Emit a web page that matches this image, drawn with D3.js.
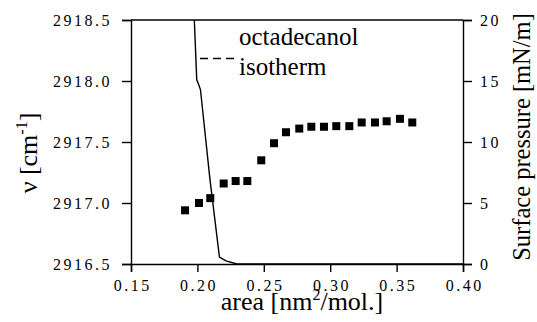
<!DOCTYPE html>
<html>
<head>
<meta charset="utf-8">
<script src="https://cdn.jsdelivr.net/npm/d3@7"></script>
<style>
  body { margin: 0; background: #fff; }
  svg { display: block; }
  .tick text { font-family: "Liberation Serif", "Times New Roman", serif; font-size: 16px; letter-spacing: 2.5px; fill: #000; }
  .domain, .tick line { stroke: #000; stroke-width: 1.4px; }
  .ttl { font-family: "Liberation Serif", "Times New Roman", serif; fill: #000; }
</style>
</head>
<body>
<div id="chart"></div>
<script>
'use strict'

// peak position vs area (squares)
let areaPts = [0.1907, 0.2012, 0.2097, 0.2198, 0.2288, 0.2376, 0.2481, 0.2577, 0.2667, 0.2767,
               0.2858, 0.2953, 0.3046, 0.3144, 0.3237, 0.3337, 0.3425, 0.3525, 0.3618];
let nuPts = [2916.94, 2917.00, 2917.04, 2917.16, 2917.18, 2917.18, 2917.35, 2917.49, 2917.58, 2917.61,
             2917.625, 2917.625, 2917.63, 2917.63, 2917.66, 2917.66, 2917.67, 2917.69, 2917.66];

// octadecanol isotherm (right axis)
let isoArea = [0.1977, 0.1995, 0.2008, 0.2023, 0.2095, 0.2166, 0.2215, 0.2298, 0.40];
let isoPressure = [20, 15.1, 14.75, 14.3, 6.9, 0.57, 0.25, 0, 0];

let xTicks = [0.15, 0.20, 0.25, 0.30, 0.35, 0.40];
let nuTicks = [2916.5, 2917.0, 2917.5, 2918.0, 2918.5];
let pTicks = [0, 5, 10, 15, 20];

var W = 537, H = 322;
var mLeft = 131, mRight = 463, mTop = 20, mBottom = 264;
var serif = '"Liberation Serif", "Times New Roman", serif';

var svg = d3.select("#chart").append("svg")
    .attr("width", W)
    .attr("height", H);

var x = d3.scaleLinear().domain([0.15, 0.40]).range([mLeft, mRight]);
var yNu = d3.scaleLinear().domain([2916.5, 2918.5]).range([mBottom, mTop]);
var yP = d3.scaleLinear().domain([0, 20]).range([mBottom, mTop]);

// frame top line
svg.append("line")
    .attr("x1", mLeft).attr("x2", mRight)
    .attr("y1", mTop).attr("y2", mTop)
    .attr("stroke", "#000").attr("stroke-width", 1.4);

var gx = svg.append("g")
    .attr("transform", "translate(0," + mBottom + ")")
    .call(d3.axisBottom(x).tickValues(xTicks).tickFormat(d3.format(".2f")).tickSizeOuter(0).tickSize(8).tickPadding(8));
gx.selectAll(".tick text").attr("dx", "1.2px");

var gl = svg.append("g")
    .attr("transform", "translate(" + mLeft + ",0)")
    .call(d3.axisLeft(yNu).tickValues(nuTicks).tickFormat(d3.format(".1f")).tickSizeOuter(0).tickSize(9).tickPadding(10));

var gr = svg.append("g")
    .attr("transform", "translate(" + mRight + ",0)")
    .call(d3.axisRight(yP).tickValues(pTicks).tickFormat(d3.format("d")).tickSizeOuter(0).tickSize(9).tickPadding(8));

[gx, gl, gr].forEach(function(g) {
  g.attr("font-family", serif).attr("font-size", 16);
});

// isotherm
var line = d3.line()
    .x(function(d, i) { return x(isoArea[i]); })
    .y(function(d, i) { return yP(isoPressure[i]); });

svg.append("path")
    .datum(isoArea)
    .attr("d", line)
    .attr("fill", "none")
    .attr("stroke", "#000")
    .attr("stroke-width", 1.4);

// squares
var sq = 8;
svg.selectAll(".pt")
    .data(areaPts)
    .enter().append("rect")
    .attr("class", "pt")
    .attr("x", function(d) { return x(d) - sq/2; })
    .attr("y", function(d, i) { return yNu(nuPts[i]) - sq/2; })
    .attr("width", sq)
    .attr("height", sq)
    .attr("fill", "#000");

// legend
svg.append("line")
    .attr("x1", 200).attr("x2", 236)
    .attr("y1", 58.5).attr("y2", 58.5)
    .attr("stroke", "#000").attr("stroke-width", 1.6)
    .attr("stroke-dasharray", "8,5");
svg.append("text").attr("class", "ttl")
    .attr("x", 239).attr("y", 45)
    .style("font-size", "25px")
    .text("octadecanol");
svg.append("text").attr("class", "ttl")
    .attr("x", 239).attr("y", 75)
    .style("font-size", "25px")
    .text("isotherm");

// axis titles
var tx = svg.append("text").attr("class", "ttl")
    .attr("x", 302).attr("y", 310)
    .attr("text-anchor", "middle")
    .style("font-size", "26px");
tx.append("tspan").text("area [nm");
tx.append("tspan").attr("dy", -10).style("font-size", "16px").text("2");
tx.append("tspan").attr("dy", 10).text("/mol.]");

var tl = svg.append("text").attr("class", "ttl")
    .attr("transform", "translate(37,153) rotate(-90)")
    .attr("text-anchor", "middle")
    .style("font-size", "26px");
tl.append("tspan").text("ν [cm");
tl.append("tspan").attr("dy", -10).style("font-size", "16px").text("-1");
tl.append("tspan").attr("dy", 10).text("]");

svg.append("text").attr("class", "ttl")
    .attr("transform", "translate(530,137) rotate(-90)")
    .attr("text-anchor", "middle")
    .style("font-size", "24.5px")
    .text("Surface pressure [mN/m]");
</script>
</body>
</html>
